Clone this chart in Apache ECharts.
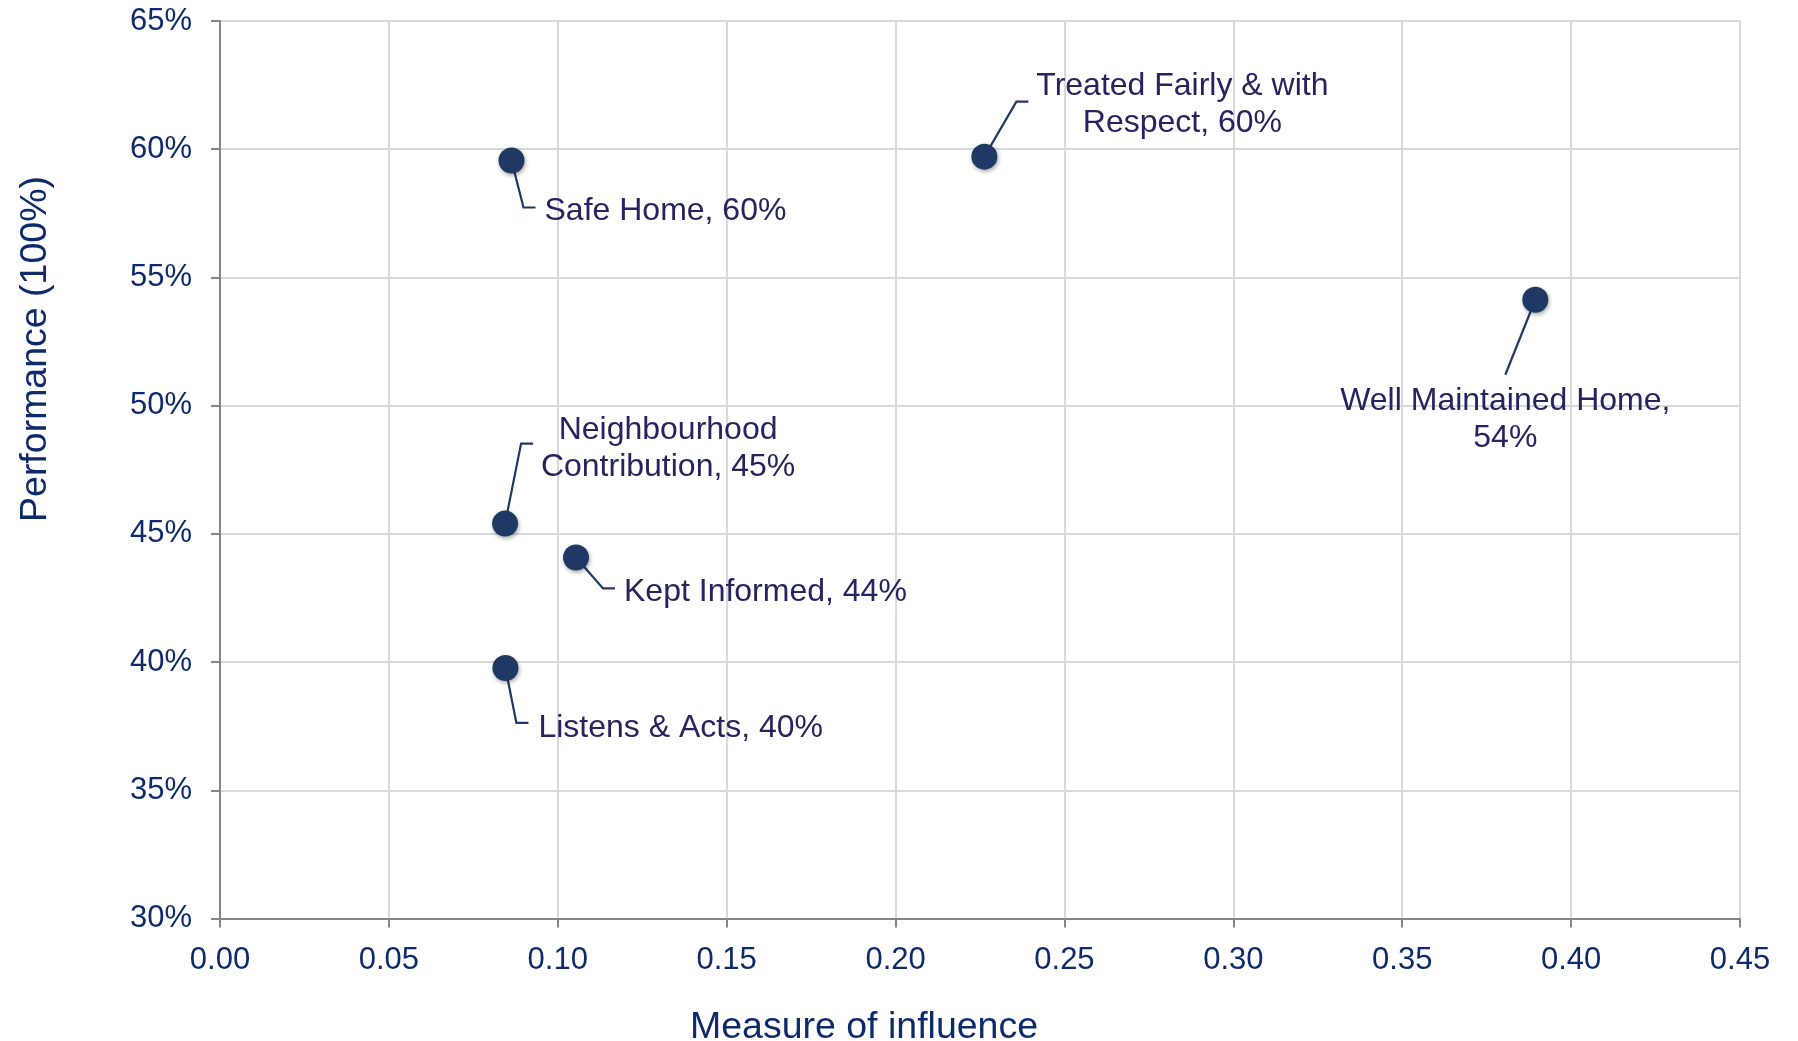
<!DOCTYPE html>
<html>
<head>
<meta charset="utf-8">
<title>Performance vs Measure of influence</title>
<script src="https://cdn.jsdelivr.net/npm/echarts@6/dist/echarts.min.js"></script>
<style>
  html, body { margin: 0; padding: 0; background: #ffffff; }
  #chart { width: 1798px; height: 1041px; }
</style>
</head>
<body>
<div id="chart"></div>
<script>
// Drivers of satisfaction: influence (x) against performance in % (y)
const driverNames = [
  'Treated Fairly & with\nRespect',
  'Safe Home',
  'Well Maintained Home',
  'Neighbourhood\nContribution',
  'Kept Informed',
  'Listens & Acts'
];
const influence   = [0.2263, 0.0863, 0.3894, 0.0844, 0.1054, 0.0845];
const performance = [59.71, 59.56, 54.13, 45.40, 44.08, 39.77];

// Axis ranges and tick steps
const xRange = { min: 0, max: 0.45, step: 0.05 };
const yRange = { min: 30, max: 65, step: 5 };

// Label placement relative to each marker (pixels) and leader-line bends
const labelLayout = [
  { align: 'center', dx: 198, dy: -52, valueOnNewLine: false, leader: [[0, 0], [32, -55], [44, -55]] },
  { align: 'left',   dx: 33,  dy: 51,  valueOnNewLine: false, leader: [[0, 0], [12, 47], [24, 47]] },
  { align: 'center', dx: -30, dy: 120, valueOnNewLine: true,  leader: [[0, 0], [-30, 75]] },
  { align: 'center', dx: 163, dy: -75, valueOnNewLine: false, leader: [[0, 0], [16, -80], [28, -80]] },
  { align: 'left',   dx: 48,  dy: 35,  valueOnNewLine: false, leader: [[0, 0], [27, 31], [39, 31]] },
  { align: 'left',   dx: 33,  dy: 60,  valueOnNewLine: false, leader: [[0, 0], [11, 55], [23, 55]] }
];

const FONT = '"Liberation Sans", Arial, Helvetica, sans-serif';
const NAVY = '#0d2b6b';
const LABEL_INK = '#27235f';
const MARKER = '#1f3864';

const points = influence.map((x, i) => ({
  name: driverNames[i],
  value: [x, performance[i]],
  label: {
    align: labelLayout[i].align,
    offset: [labelLayout[i].dx, labelLayout[i].dy]
  }
}));

const chart = echarts.init(document.getElementById('chart'), null, { renderer: 'canvas' });

chart.setOption({
  animation: false,
  backgroundColor: '#ffffff',
  grid: { left: 220, right: 58, top: 21, bottom: 122.5, containLabel: false },
  xAxis: {
    type: 'value',
    min: xRange.min, max: xRange.max, interval: xRange.step,
    axisLine: { show: true, lineStyle: { color: '#868686', width: 2 } },
    axisTick: { show: true, length: 9, lineStyle: { color: '#868686', width: 2 } },
    splitLine: { show: true, lineStyle: { color: '#d9d9d9', width: 2 } },
    axisLabel: {
      margin: 26, color: NAVY, fontSize: 31, fontFamily: FONT,
      formatter: v => v.toFixed(2)
    }
  },
  yAxis: {
    type: 'value',
    min: yRange.min, max: yRange.max, interval: yRange.step,
    axisLine: { show: true, lineStyle: { color: '#868686', width: 2 } },
    axisTick: { show: true, length: 9, lineStyle: { color: '#868686', width: 2 } },
    splitLine: { show: true, lineStyle: { color: '#d9d9d9', width: 2 } },
    axisLabel: {
      margin: 28, color: NAVY, fontSize: 31, fontFamily: FONT,
      padding: [4, 0, 0, 0],
      formatter: '{value}%'
    }
  },
  graphic: [
    {
      type: 'text', x: 864, y: 1028,
      style: { text: 'Measure of influence', font: '37.5px ' + FONT, fill: NAVY, align: 'center', verticalAlign: 'middle' }
    },
    {
      type: 'text', x: 36, y: 349, rotation: Math.PI / 2,
      style: { text: 'Performance (100%)', font: '37.5px ' + FONT, fill: NAVY, align: 'center', verticalAlign: 'middle' }
    }
  ],
  series: [
    {
      // leader lines joining each marker to its label
      type: 'custom',
      z: 1,
      silent: true,
      data: influence.map((x, i) => [x, performance[i]]),
      renderItem: (params, api) => {
        const c = api.coord([api.value(0), api.value(1)]);
        const pts = labelLayout[params.dataIndex].leader.map(o => [c[0] + o[0], c[1] + o[1]]);
        return {
          type: 'polyline',
          shape: { points: pts },
          style: { stroke: MARKER, lineWidth: 2.2, fill: null }
        };
      }
    },
    {
      type: 'scatter',
      z: 3,
      symbol: 'circle',
      symbolSize: 26,
      itemStyle: {
        color: MARKER,
        opacity: 1,
        shadowColor: 'rgba(0,0,0,0.35)',
        shadowBlur: 4,
        shadowOffsetX: 1,
        shadowOffsetY: 2
      },
      label: {
        show: true,
        position: 'inside',
        verticalAlign: 'middle',
        color: LABEL_INK,
        fontSize: 32,
        lineHeight: 37,
        fontFamily: FONT,
        formatter: p => {
          const pct = Math.round(p.value[1]) + '%';
          const sep = labelLayout[p.dataIndex].valueOnNewLine ? ',\n' : ', ';
          return p.name + sep + pct;
        }
      },
      emphasis: { disabled: true },
      data: points
    }
  ]
});
</script>
</body>
</html>
